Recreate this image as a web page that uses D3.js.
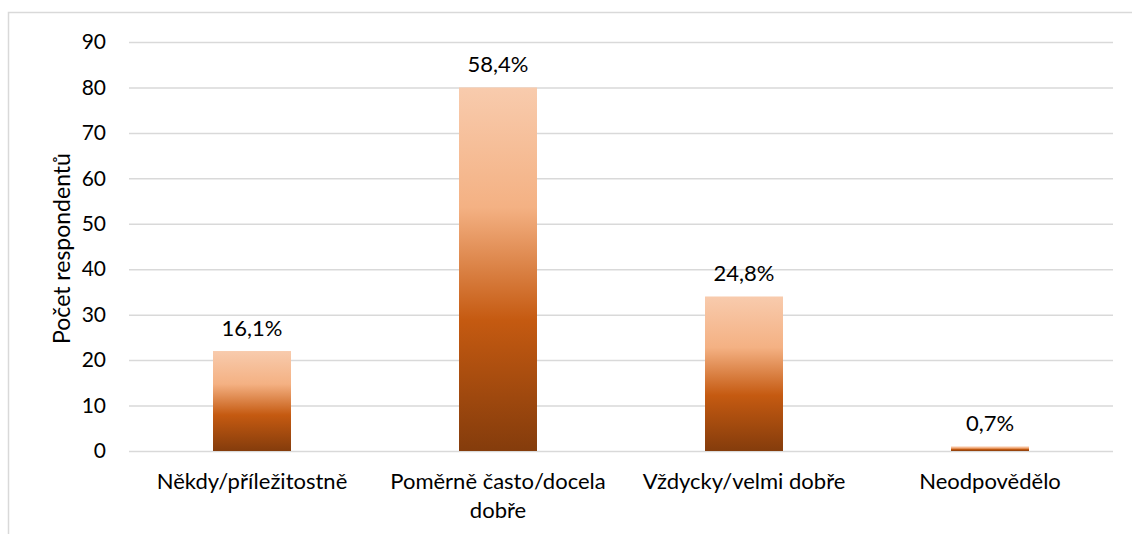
<!DOCTYPE html>
<html>
<head>
<meta charset="utf-8">
<script src="https://cdn.jsdelivr.net/npm/d3@7"></script>
<style>
  html, body { margin: 0; padding: 0; background: #fff; }
  svg { display: block; font-family: Lato, "Open Sans", sans-serif; }
</style>
</head>
<body>
<svg id="chart" width="1132" height="534"></svg>
<script>
// Responses per category and their share labels
const categories = ["Někdy/příležitostně", "Poměrně často/docela dobře", "Vždycky/velmi dobře", "Neodpovědělo"];
const counts = [22, 80, 34, 1];
const shareLabels = ["16,1%", "58,4%", "24,8%", "0,7%"];
const yTicks = [0, 10, 20, 30, 40, 50, 60, 70, 80, 90];
const yTitle = "Počet respondentů";

const svg = d3.select("#chart");
const W = 1132, H = 534;
const plot = { left: 129, right: 1113, top: 42, bottom: 451 };

// Outer chart frame (top and left edges visible)
svg.append("path")
  .attr("d", `M8.5,${H} V12.5 H${W}`)
  .attr("fill", "none")
  .attr("stroke", "#d9d9d9")
  .attr("stroke-width", 1.5);

const x = d3.scaleBand()
  .domain(categories)
  .range([plot.left, plot.right])
  .paddingInner(0.683)
  .paddingOuter(0.3415);

const y = d3.scaleLinear().domain([0, 90]).range([plot.bottom, plot.top]);

// Gradient fill used by every bar
const defs = svg.append("defs");
const grad = defs.append("linearGradient")
  .attr("id", "barFill")
  .attr("x1", 0).attr("y1", 0).attr("x2", 0).attr("y2", 1);
[[0, "#f8cbad"], [0.33, "#f4b183"], [0.64, "#c55a11"], [1, "#843c0c"]]
  .forEach(([o, c]) => grad.append("stop").attr("offset", o).attr("stop-color", c));

// Horizontal gridlines
svg.append("g")
  .attr("transform", `translate(${plot.left},0)`)
  .call(d3.axisLeft(y).tickValues(yTicks).tickSize(-(plot.right - plot.left)).tickFormat(""))
  .call(g => g.select(".domain").remove())
  .call(g => g.selectAll(".tick line").attr("stroke", "#d9d9d9").attr("stroke-width", 1.5));

// Y tick labels
svg.append("g")
  .attr("transform", `translate(106,0)`)
  .call(d3.axisLeft(y).tickValues(yTicks).tickSize(0).tickPadding(0))
  .call(g => g.select(".domain").remove())
  .call(g => g.selectAll(".tick text")
    .attr("font-family", "Lato, sans-serif")
    .attr("font-size", 21)
    .attr("fill", "#000"));

// Bars
svg.append("g").selectAll("rect")
  .data(counts)
  .join("rect")
  .attr("x", (d, i) => x(categories[i]))
  .attr("width", x.bandwidth())
  .attr("y", d => y(d))
  .attr("height", d => y(0) - y(d))
  .attr("fill", "url(#barFill)");

// Share labels above bars
svg.append("g").selectAll("text")
  .data(counts)
  .join("text")
  .attr("x", (d, i) => x(categories[i]) + x.bandwidth() / 2)
  .attr("y", d => y(d) - 15)
  .attr("text-anchor", "middle")
  .attr("font-size", 22)
  .attr("fill", "#000")
  .text((d, i) => shareLabels[i]);

// Category labels, wrapped to the band width
const catG = svg.append("g");
categories.forEach(cat => {
  const cx = x(cat) + x.bandwidth() / 2;
  const t = catG.append("text")
    .attr("x", cx)
    .attr("y", 489)
    .attr("text-anchor", "middle")
    .attr("font-size", 22)
    .attr("fill", "#000");
  const words = cat.split(" ");
  let line = [];
  let tspan = t.append("tspan").attr("x", cx).attr("dy", 0);
  words.forEach(w => {
    line.push(w);
    tspan.text(line.join(" "));
    if (tspan.node().getComputedTextLength() > 240 && line.length > 1) {
      line.pop();
      tspan.text(line.join(" "));
      line = [w];
      tspan = t.append("tspan").attr("x", cx).attr("dy", 29).text(w);
    }
  });
});

// Y axis title
svg.append("text")
  .attr("transform", `translate(70,${(plot.top + plot.bottom) / 2 + 2}) rotate(-90)`)
  .attr("text-anchor", "middle")
  .attr("font-size", 23)
  .attr("fill", "#000")
  .text(yTitle);
</script>
</body>
</html>
